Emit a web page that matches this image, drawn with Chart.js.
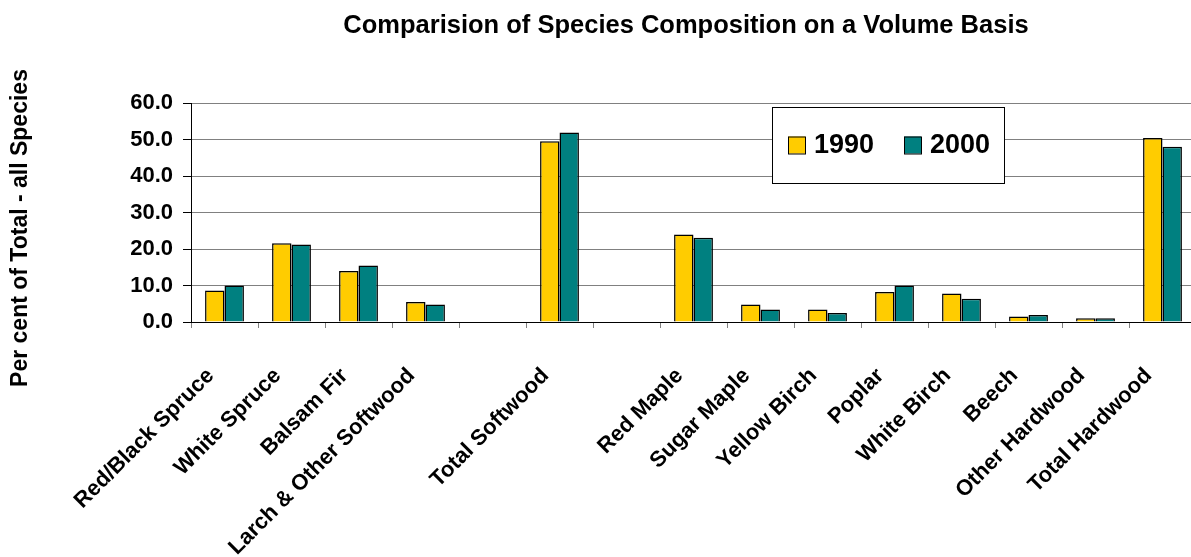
<!DOCTYPE html>
<html>
<head>
<meta charset="utf-8">
<script src="https://cdn.jsdelivr.net/npm/chart.js@4/dist/chart.umd.min.js"></script>
<style>
  html, body { margin: 0; padding: 0; background: #ffffff; overflow: hidden; }
  #wrap { width: 1191px; height: 557px; position: relative; overflow: hidden; }
  #chart { position: absolute; left: 0; top: 0; }
</style>
</head>
<body>
<div id="wrap"><canvas id="chart" width="1200" height="557"></canvas></div>
<script>
// Species groups along the x axis (blank slots separate the group totals)
const categories = [
  'Red/Black Spruce', 'White Spruce', 'Balsam Fir', 'Larch & Other Softwood', '',
  'Total Softwood', '', 'Red Maple', 'Sugar Maple', 'Yellow Birch', 'Poplar',
  'White Birch', 'Beech', 'Other Hardwood', 'Total Hardwood'
];
// Percent of total volume, all species
const values1990 = [8.6, 21.6, 14.0, 5.5, null, 49.5, null, 24.0, 4.8, 3.4, 8.2, 7.8, 1.5, 1.0, 50.4];
const values2000 = [10.0, 21.2, 15.5, 4.8, null, 51.9, null, 23.1, 3.4, 2.5, 10.0, 6.4, 1.9, 1.0, 48.0];
const seriesNames = ['1990', '2000'];
const yMin = 0, yMax = 60, yStep = 10;

const FONT = "'Liberation Sans', Arial, Helvetica, sans-serif";

// Title, vertical axis title and boxed legend drawn on top of the chart
const annotations = {
  id: 'annotations',
  afterDraw(chart) {
    const ctx = chart.ctx;
    ctx.save();
    ctx.fillStyle = '#000';
    ctx.textBaseline = 'middle';

    // chart title
    ctx.font = 'bold 25.5px ' + FONT;
    ctx.textAlign = 'center';
    ctx.fillText('Comparision of Species Composition on a Volume Basis', 686, 26);

    // y axis title
    ctx.save();
    ctx.translate(21, 228);
    ctx.rotate(-Math.PI / 2);
    ctx.font = 'bold 23px ' + FONT;
    ctx.fillText('Per cent of Total - all Species', 0, 0);
    ctx.restore();

    // legend box
    const bx = 772, by = 107, bw = 232, bh = 76;
    ctx.fillStyle = '#fff';
    ctx.fillRect(bx, by, bw, bh);
    ctx.strokeStyle = '#000';
    ctx.lineWidth = 1;
    ctx.strokeRect(bx + 0.5, by + 0.5, bw, bh);
    const itemX = [788, 904];
    ctx.font = 'bold 27px ' + FONT;
    ctx.textAlign = 'left';
    chart.data.datasets.forEach((ds, i) => {
      const x = itemX[i], yc = 145;
      ctx.fillStyle = ds.backgroundColor;
      ctx.fillRect(x, yc - 8.5, 17, 17);
      ctx.strokeStyle = '#000';
      ctx.lineWidth = 1;
      ctx.strokeRect(x + 0.5, yc - 8.5 + 0.5, 17, 17);
      ctx.fillStyle = '#000';
      ctx.fillText(ds.label, x + 26, yc + 1);
    });
    ctx.restore();
  }
};

new Chart(document.getElementById('chart'), {
  type: 'bar',
  data: {
    labels: categories,
    datasets: [
      { label: seriesNames[0], data: values1990, backgroundColor: '#FFCC00', borderColor: '#000', borderWidth: 1.5 },
      { label: seriesNames[1], data: values2000, backgroundColor: '#008080', borderColor: '#000', borderWidth: 1.5 }
    ]
  },
  options: {
    responsive: false,
    animation: false,
    devicePixelRatio: 1,
    layout: { padding: { top: 103, right: 4, left: 0, bottom: 0 } },
    datasets: { bar: { categoryPercentage: 0.58, barPercentage: 1.0 } },
    plugins: {
      legend: { display: false },
      title: { display: false },
      tooltip: { enabled: false }
    },
    scales: {
      x: {
        offset: true,
        grid: {
          offset: true,
          drawOnChartArea: false,
          drawTicks: true,
          tickLength: 6,
          tickColor: '#808080',
          lineWidth: 1
        },
        border: { display: true, color: '#000', width: 1 },
        ticks: {
          autoSkip: false,
          minRotation: 45,
          maxRotation: 45,
          padding: 35,
          labelOffset: -14,
          color: '#000',
          font: { family: FONT, size: 22, weight: 'bold' }
        },
        afterFit(scale) {
          scale.height = 235;
          scale.paddingLeft = 0;
          scale.paddingRight = 0;
        }
      },
      y: {
        min: yMin,
        max: yMax,
        grid: {
          color: '#808080',
          lineWidth: 1,
          drawTicks: true,
          tickLength: 8,
          tickColor: '#000'
        },
        border: { display: true, color: '#000', width: 1 },
        ticks: {
          stepSize: yStep,
          padding: 10,
          color: '#000',
          font: { family: FONT, size: 22, weight: 'bold' },
          callback: (v) => Number(v).toFixed(1)
        },
        afterFit(scale) { scale.width = 191; }
      }
    }
  },
  plugins: [annotations]
});
</script>
</body>
</html>
